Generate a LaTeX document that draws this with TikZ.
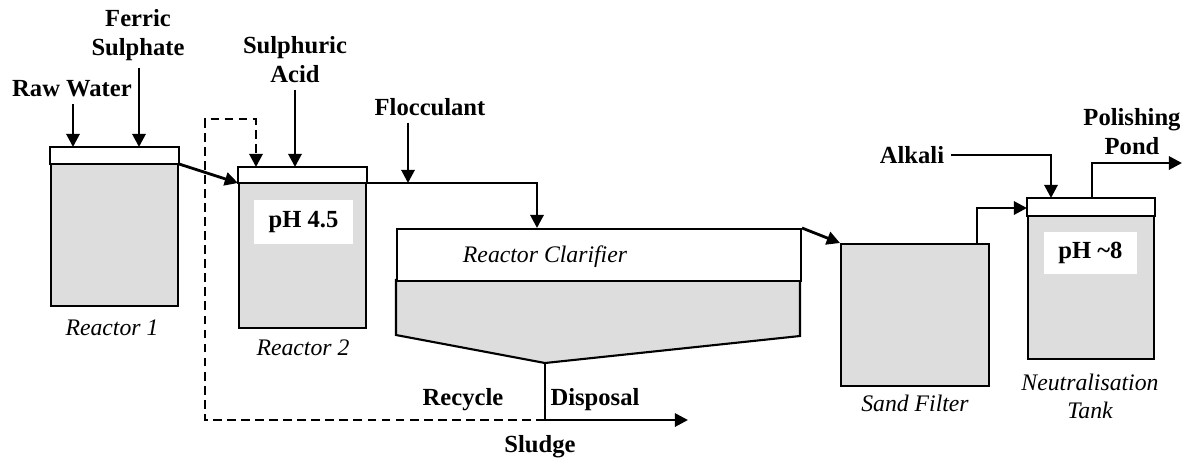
\documentclass[tikz,border=0pt]{standalone}
\usepackage{fontspec}
\setmainfont{Liberation Serif}
\usepackage{xcolor}
\usetikzlibrary{arrows.meta,positioning,calc}
\definecolor{tankgray}{HTML}{DDDDDD}

\begin{document}
\begin{tikzpicture}[x=0.02cm, y=-0.02cm, font=\fontsize{14}{16.5}\selectfont\bfseries,
    tank/.style={draw, line width=1.2pt, fill=tankgray, inner sep=0pt, anchor=north west},
    band/.style={draw, line width=1.2pt, fill=white},
    flow/.style={line width=1.6pt, -{Triangle[length=7.5pt,width=7.5pt]}},
    recycleline/.style={flow, dash pattern=on 5pt off 3pt},
    tankname/.style={font=\fontsize{13.5}{16}\selectfont\itshape, align=center},
    feed/.style={align=center, inner sep=1pt, outer sep=3pt},
    phbox/.style={fill=white, inner sep=0pt}]
    \useasboundingbox (0,0) rectangle (1190,458);
    % tanks
    \node[tank, minimum width=2.54cm, minimum height=3.16cm] (r1) at (50,147) {};
    \draw[band] (r1.north west) rectangle ($(r1.north east)+(0,17)$);
    \node[tank, minimum width=2.54cm, minimum height=3.2cm] (r2) at (238,167) {};
    \draw[band] (r2.north west) rectangle ($(r2.north east)+(0,16)$);
    \node[tank, minimum width=2.96cm, minimum height=2.84cm] (sf) at (840,243) {};
    \node[tank, minimum width=2.52cm, minimum height=3.2cm] (nt) at (1027,198) {};
    \draw[band] (nt.north west) rectangle ($(nt.north east)+(0,18)$);
    % clarifier: hopper below, clear zone on top
    \filldraw[line width=1.2pt, fill=tankgray] (396,280) -- (800,280) -- (800,336)
      -- (545,363) -- (396,335) -- cycle;
    \node[band, anchor=north west, inner sep=0pt, minimum width=8.08cm, minimum height=1.04cm] (rc) at (396,228) {};
    \coordinate (rcbot) at (545,363);
    % pH windows
    \node[phbox, minimum width=1.98cm, minimum height=0.88cm] (ph2) at (303.5,222) {pH 4.5};
    \node[phbox, minimum width=1.86cm, minimum height=0.84cm] (ph8) at (1090.5,253) {pH \textasciitilde8};
    % tank names
    \node[tankname] (r1name) at (112,328) {Reactor 1};
    \node[tankname] (r2name) at (303,348) {Reactor 2};
    \node[tankname] (rcname) at (545,257) {Reactor Clarifier};
    \node[tankname] (sfname) at (915,403) {Sand Filter};
    \node[tankname] (ntname) at (1090,396) {Neutralisation\\Tank};
    % feeds and streams
    \node[feed] (raw) at (72,89) {Raw Water};
    \node[feed] (ferric) at (138,35) {Ferric\\Sulphate};
    \node[feed] (acid) at (295,60) {Sulphuric\\Acid};
    \node[feed] (floc) at (430,107) {Flocculant};
    \node[feed] (alkali) at (912,155) {Alkali};
    \node[feed] (pond) at (1132,132) {Polishing\\Pond};
    \node[feed] (recycle) at (463,400) {Recycle};
    \node[feed] (disposal) at (595,400) {Disposal};
    \node[feed] (sludge) at (540,447) {Sludge};
    % inlet / outlet points
    \coordinate (r1raw) at (73,147);
    \coordinate (r1fe) at (139,147);
    \coordinate (r2acid) at (295,167);
    \coordinate (r2rec) at (256,167);
    \coordinate (flocin) at (408,183);
    \coordinate (rcin) at (537,228);
    \coordinate (sfout) at (977,243);
    \coordinate (ntalk) at (1051,198);
    \coordinate (ntout) at (1092,198);
    \coordinate (pondend) at (1182,163);
    \coordinate (sj) at (545,420);
    \coordinate (sludgeend) at (688,420);
    \coordinate (reccorner) at (205,119);
    % connectors
    \draw[flow] (raw.south -| r1raw) -- (r1raw);
    \draw[flow] (ferric.south -| r1fe) -- (r1fe);
    \draw[flow] (acid.south -| r2acid) -- (r2acid);
    \draw[flow] ($(r1.north east)+(0,17)$) -- ($(r2.north west)+(0,16)$);
    \draw[flow] ($(r2.north east)+(0,16)$) -| (rcin);
    \draw[flow] (floc.south -| flocin) -- (flocin);
    \draw[flow] (rc.north east) -- (sf.north west);
    \draw[flow] (sfout) |- ($(nt.north west)+(0,10)$);
    \draw[flow] (alkali.east) -| (ntalk);
    \draw[flow] (ntout) |- (pondend);
    \draw[flow] (rcbot) -- (sj) -- (sludgeend);
    \draw[recycleline] (sj) -| (reccorner) -| (r2rec);
  \end{tikzpicture}
\end{document}
